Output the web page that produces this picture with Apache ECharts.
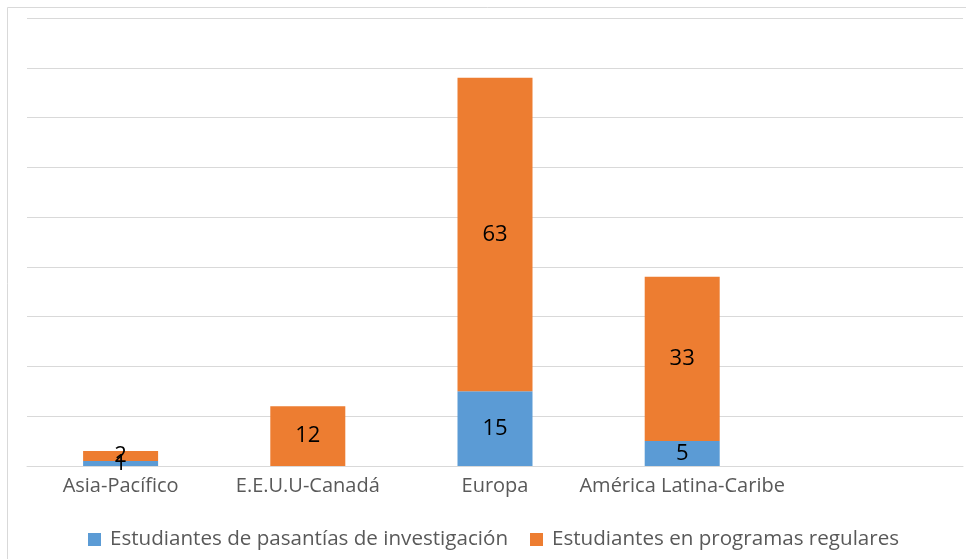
<!DOCTYPE html>
<html>
<head>
<meta charset="utf-8">
<script src="https://cdn.jsdelivr.net/npm/echarts@6/dist/echarts.min.js"></script>
<style>
  html, body { margin: 0; padding: 0; background: #fff; }
  #chart { width: 966px; height: 559px; }
</style>
</head>
<body>
<div id="chart"></div>
<script>
// regions (the last slot is empty in the original)
var categories = ["Asia-Pacífico", "E.E.U.U-Canadá", "Europa", "América Latina-Caribe", ""];
var pasantias = [1, 0, 15, 5, null];
var regulares = [2, 12, 63, 33, null];

var chart = echarts.init(document.getElementById("chart"));

var labelStyle = {
  show: true,
  position: "inside",
  color: "#000000",
  fontSize: 22,
  fontFamily: "Open Sans",
  formatter: function(p) {
    return p.value ? p.value : "";
  }
};

chart.setOption({
  backgroundColor: "#ffffff",
  animation: false,
  graphic: [
    {
      type: "rect",
      shape: { x: 7.5, y: 7.5, width: 970, height: 560 },
      style: { fill: "none", stroke: "#d9d9d9", lineWidth: 1 }
    }
  ],
  grid: {
    left: 27,
    right: 3,
    top: 18,
    bottom: 93
  },
  legend: {
    bottom: 4,
    left: 83,
    icon: "rect",
    itemWidth: 13,
    itemHeight: 13,
    itemGap: 22,
    textStyle: {
      color: "#595959",
      fontSize: 20.6,
      fontFamily: "Open Sans",
      padding: [0, 0, 0, 4]
    },
    data: ["Estudiantes de pasantías de investigación", "Estudiantes en programas regulares"]
  },
  xAxis: {
    type: "category",
    data: categories,
    axisLine: { lineStyle: { color: "#d9d9d9" } },
    axisTick: { show: false },
    axisLabel: {
      interval: 0,
      color: "#595959",
      fontSize: 20,
      fontFamily: "Open Sans",
      margin: 10
    }
  },
  yAxis: {
    type: "value",
    min: 0,
    max: 90,
    interval: 10,
    axisLabel: { show: false },
    axisLine: { show: false },
    axisTick: { show: false },
    splitLine: { lineStyle: { color: "#d9d9d9", width: 1 } }
  },
  series: [
    {
      name: "Estudiantes de pasantías de investigación",
      type: "bar",
      stack: "total",
      barWidth: 75,
      itemStyle: { color: "#5b9bd5" },
      label: labelStyle,
      data: pasantias
    },
    {
      name: "Estudiantes en programas regulares",
      type: "bar",
      stack: "total",
      barWidth: 75,
      itemStyle: { color: "#ed7d31" },
      label: labelStyle,
      data: regulares
    }
  ]
});
</script>
</body>
</html>
